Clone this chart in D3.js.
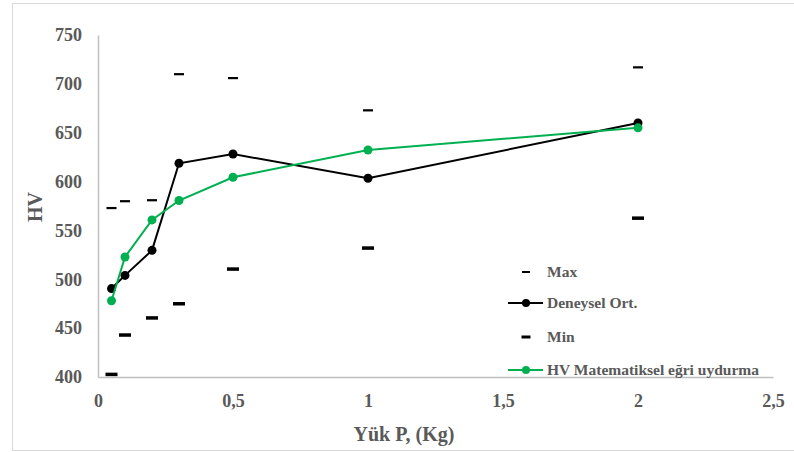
<!DOCTYPE html>
<html>
<head>
<meta charset="utf-8">
<script src="https://cdn.jsdelivr.net/npm/d3@7"></script>
<style>
  html, body { margin: 0; padding: 0; background: #fff; }
  svg { display: block; }
  svg text { font-family: "Liberation Serif", "Times New Roman", serif; font-weight: bold; fill: #595959; }
</style>
</head>
<body>
<svg id="chart" width="794" height="452"></svg>
<script>
// ---- data ----
const loads = [0.05, 0.1, 0.2, 0.3, 0.5, 1, 2];
const maxValues = [573, 580, 581, 710, 706, 673, 717];
const avgValues = [490.5, 504, 529.6, 618.7, 628.2, 603.4, 660];
const minValues = [402.7, 443, 460.5, 475, 510.5, 532, 562.6];
const fitValues = [478, 522.8, 560.8, 580.6, 604.4, 632.3, 655];
const xTicks = [0, 0.5, 1, 1.5, 2, 2.5];
const yTicks = [400, 450, 500, 550, 600, 650, 700, 750];
const seriesNames = ["Max", "Deneysel Ort.", "Min", "HV Matematiksel eğri uydurma"];
const xTitle = "Yük P, (Kg)";
const yTitle = "HV";

const FONT = "'Liberation Serif', 'Times New Roman', serif";
const svg = d3.select("#chart");

// outer chart border
svg.append("rect").attr("x", 12.5).attr("y", 3.5).attr("width", 790).attr("height", 447)
  .attr("fill", "none").attr("stroke", "#d9d9d9").attr("stroke-width", 1);

const x = d3.scaleLinear().domain([0, 2.5]).range([98, 773]);
const y = d3.scaleLinear().domain([400, 750]).range([377, 35]);
const fmt = d => String(d).replace(".", ",");

// axes
const xAxis = svg.append("g").attr("transform", "translate(0,377)")
  .call(d3.axisBottom(x).tickValues(xTicks).tickSize(0).tickPadding(17).tickFormat(fmt));
xAxis.attr("font-family", FONT);
xAxis.select(".domain").attr("stroke", "#bfbfbf").attr("stroke-width", 1.5);
xAxis.selectAll("text").attr("font-size", 18).attr("font-family", FONT).attr("font-weight", "bold").attr("fill", "#595959");

const yAxis = svg.append("g").attr("transform", "translate(98,0)")
  .call(d3.axisLeft(y).tickValues(yTicks).tickSize(0).tickPadding(16));
yAxis.attr("font-family", FONT);
yAxis.select(".domain").attr("stroke", "#bfbfbf").attr("stroke-width", 1.5);
yAxis.selectAll("text").attr("font-size", 18).attr("font-family", FONT).attr("font-weight", "bold").attr("fill", "#595959");

// titles
svg.append("text").attr("x", 404).attr("y", 441).attr("text-anchor", "middle")
  .attr("font-family", FONT).attr("font-size", 20).text(xTitle);
svg.append("text").attr("transform", "translate(42,207) rotate(-90)").attr("text-anchor", "middle")
  .attr("font-family", FONT).attr("font-size", 20).text(yTitle);

const pts = vals => loads.map((l, i) => [l, vals[i]]);
const line = d3.line().x(d => x(d[0])).y(d => y(d[1]));

// Max dashes
svg.append("g").selectAll("rect").data(pts(maxValues)).join("rect")
  .attr("x", d => x(d[0]) - 5).attr("y", d => y(d[1]) - 1).attr("width", 10).attr("height", 2.2)
  .attr("fill", "#000");
// Min dashes
svg.append("g").selectAll("rect").data(pts(minValues)).join("rect")
  .attr("x", d => x(d[0]) - 6).attr("y", d => y(d[1]) - 1.7).attr("width", 12).attr("height", 3.5)
  .attr("fill", "#000");

// Deneysel Ort.
svg.append("path").datum(pts(avgValues)).attr("d", line)
  .attr("fill", "none").attr("stroke", "#000").attr("stroke-width", 2);
svg.append("g").selectAll("circle").data(pts(avgValues)).join("circle")
  .attr("cx", d => x(d[0])).attr("cy", d => y(d[1])).attr("r", 4.5).attr("fill", "#000");

// Fit
const green = "#00b050";
svg.append("path").datum(pts(fitValues)).attr("d", line)
  .attr("fill", "none").attr("stroke", green).attr("stroke-width", 2);
svg.append("g").selectAll("circle").data(pts(fitValues)).join("circle")
  .attr("cx", d => x(d[0])).attr("cy", d => y(d[1])).attr("r", 4.5).attr("fill", green);

// legend
const lg = svg.append("g");
const rows = [272, 303, 337, 370];
const textX = 547, symX = 526;
lg.append("rect").attr("x", symX - 4).attr("y", rows[0] - 1).attr("width", 8).attr("height", 2).attr("fill", "#000");
lg.append("line").attr("x1", 508).attr("x2", 543).attr("y1", rows[1]).attr("y2", rows[1]).attr("stroke", "#000").attr("stroke-width", 2);
lg.append("circle").attr("cx", symX).attr("cy", rows[1]).attr("r", 4).attr("fill", "#000");
lg.append("rect").attr("x", symX - 4.5).attr("y", rows[2] - 1.5).attr("width", 9).attr("height", 3).attr("fill", "#000");
lg.append("line").attr("x1", 508).attr("x2", 543).attr("y1", rows[3]).attr("y2", rows[3]).attr("stroke", green).attr("stroke-width", 2);
lg.append("circle").attr("cx", symX).attr("cy", rows[3]).attr("r", 4).attr("fill", green);

seriesNames.forEach((n, i) => {
  lg.append("text").attr("x", textX).attr("y", rows[i]).attr("dy", "0.35em")
    .attr("font-family", FONT).attr("font-size", 15.5).text(n);
});
</script>
</body>
</html>
